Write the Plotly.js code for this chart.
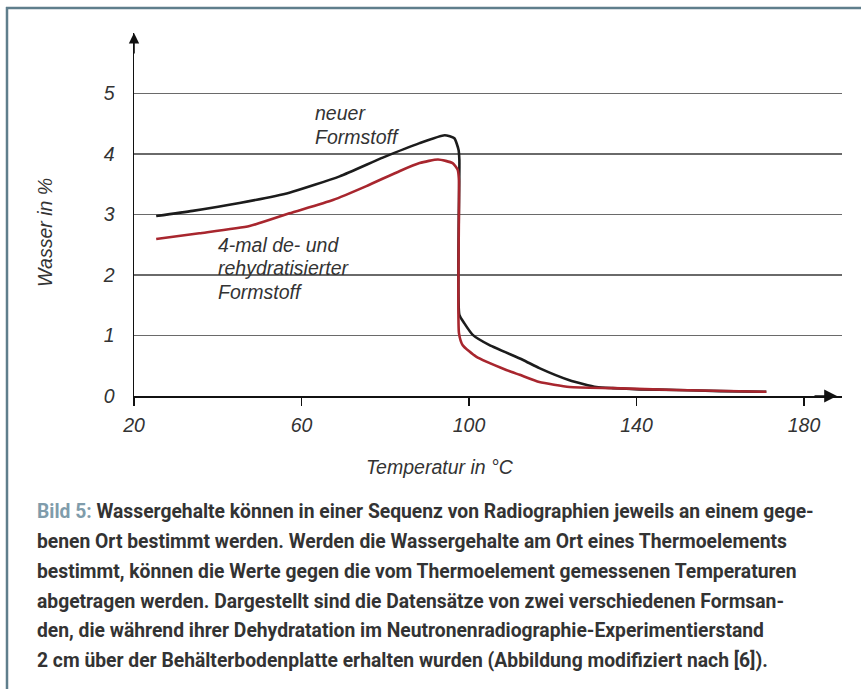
<!DOCTYPE html>
<html>
<head>
<meta charset="utf-8">
<script src="https://cdn.plot.ly/plotly-3.0.1.min.js"></script>
<style>
html,body{margin:0;padding:0;background:#fff;}
#chart{width:861px;height:689px;}
</style>
</head>
<body>
<div id="chart"></div>
<script>
// ---- data ----
const tempNeu   = [25.3, 34.0, 45.2, 57.1, 69.1, 79.4, 88.2, 94.2, 96.5, 97.5, 97.7, 97.7, 98.9, 100.9, 104.9, 112.8, 116.8, 124.0, 130.4, 134.3, 140.7, 149.5, 159.8, 171.0];
const wasserNeu = [2.975, 3.06, 3.19, 3.36, 3.63, 3.94, 4.18, 4.31, 4.26, 4.07, 3.90, 1.34, 1.20, 1.01, 0.84, 0.60, 0.46, 0.26, 0.15, 0.13, 0.11, 0.10, 0.08, 0.07];

const tempRehy   = [25.3, 35.6, 47.6, 57.1, 67.5, 75.5, 83.5, 88.2, 92.6, 96.1, 97.3, 97.6, 97.6, 98.5, 101.7, 108.9, 112.1, 116.8, 124.0, 134.3, 149.5, 171.0];
const wasserRehy = [2.595, 2.69, 2.81, 3.02, 3.24, 3.47, 3.72, 3.85, 3.91, 3.85, 3.74, 3.57, 1.04, 0.84, 0.65, 0.43, 0.35, 0.23, 0.15, 0.13, 0.10, 0.07];

const xTicks = [20, 60, 100, 140, 180];
const yTicks = [0, 1, 2, 3, 4, 5];

const labelNeuLines  = ['neuer', 'Formstoff'];
const labelRehyLines = ['4-mal de- und', 'rehydratisierter', 'Formstoff'];
const xTitle = 'Temperatur in °C';
const yTitle = 'Wasser in %';
const captionLines = [
  "<span style='color:#7f9cab'>Bild 5:</span> Wassergehalte können in einer Sequenz von Radiographien jeweils an einem gege-",
  "benen Ort bestimmt werden. Werden die Wassergehalte am Ort eines Thermoelements",
  "bestimmt, können die Werte gegen die vom Thermoelement gemessenen Temperaturen",
  "abgetragen werden. Dargestellt sind die Datensätze von zwei verschiedenen Formsan-",
  "den, die während ihrer Dehydratation im Neutronenradiographie-Experimentierstand",
  "2 cm über der Behälterbodenplatte erhalten wurden (Abbildung modifiziert nach [6])."
];

// ---- layout geometry ----
const W = 861, H = 689;
const L = 134, T = 33, PW = 708, PH = 363;
const R = W - L - PW, B = H - T - PH;
const px2x = p => (p - L) / PW;
const py2y = p => (T + PH - p) / PH;

const chartFont = 'Liberation Sans, Arial, sans-serif';
const textCol = '#333333';
const lblFont = {family: chartFont, size: 19.5, color: textCol, style: 'italic'};

const traces = [
  {x: tempNeu, y: wasserNeu, mode: 'lines', line: {color: '#1c1c1c', width: 2.6, shape: 'spline', smoothing: 0.5}, hoverinfo: 'skip'},
  {x: tempRehy, y: wasserRehy, mode: 'lines', line: {color: '#a8262e', width: 2.6, shape: 'spline', smoothing: 0.5}, hoverinfo: 'skip'}
];

const annotations = [];
labelNeuLines.forEach((t, i) => annotations.push({
  xref: 'paper', yref: 'paper', x: px2x(313), y: py2y(113 + 24 * i), xanchor: 'left', yanchor: 'middle',
  showarrow: false, text: t, font: lblFont}));
labelRehyLines.forEach((t, i) => annotations.push({
  xref: 'paper', yref: 'paper', x: px2x(216), y: py2y(245 + 23.3 * i), xanchor: 'left', yanchor: 'middle',
  showarrow: false, text: t, font: lblFont}));

annotations.push(
  {xref: 'paper', yref: 'paper', x: px2x(440), y: py2y(467), xanchor: 'center', yanchor: 'middle', showarrow: false,
   text: xTitle, font: lblFont},
  {xref: 'paper', yref: 'paper', x: px2x(45), y: py2y(233), xanchor: 'center', yanchor: 'middle', showarrow: false, textangle: -90,
   text: yTitle, font: lblFont},
  // axis arrowheads
  {xref: 'x', yref: 'y', x: 20, y: 6, ax: 0, ay: 22, text: '', showarrow: true,
   arrowhead: 2, arrowsize: 1.3, arrowwidth: 1.6, arrowcolor: '#111'},
  {xref: 'paper', yref: 'y', x: px2x(837), y: 0, ax: -24, ay: 0, text: '', showarrow: true,
   arrowhead: 2, arrowsize: 1.6, arrowwidth: 1.6, arrowcolor: '#111'}
);

const capY = [511.5, 541.5, 571.2, 601, 630.8, 660];
captionLines.forEach((t, i) => {
  annotations.push({xref: 'paper', yref: 'paper', x: px2x(35), y: py2y(capY[i]), xanchor: 'left', yanchor: 'middle',
    align: 'left', showarrow: false, text: t,
    font: {family: 'Roboto, sans-serif', size: 19.3, color: '#333333', weight: 'bold'}});
});

const shapes = [
  // white gap in the 2-gridline behind the label
  {type: 'rect', layer: 'between', xref: 'paper', yref: 'y', x0: px2x(189), x1: px2x(378), y0: 1.85, y1: 2.15,
   fillcolor: '#ffffff', line: {width: 0}},
  // frame (top and left)
  {type: 'line', xref: 'paper', yref: 'paper', x0: px2x(6), x1: px2x(861), y0: py2y(8), y1: py2y(8), line: {color: '#5f7e8c', width: 2.5}},
  {type: 'line', xref: 'paper', yref: 'paper', x0: px2x(7), x1: px2x(7), y0: py2y(7), y1: py2y(689), line: {color: '#5f7e8c', width: 2.5}}
];

const layout = {
  width: W, height: H,
  margin: {l: L, r: R, t: T, b: B, pad: 0},
  paper_bgcolor: '#ffffff', plot_bgcolor: '#ffffff',
  showlegend: false,
  xaxis: {
    range: [20, 20 + PW / 4.1875], tickvals: xTicks, ticktext: xTicks.map(String),
    showgrid: false, zeroline: false, showline: true, linecolor: '#111', linewidth: 1.5,
    ticks: 'outside', ticklen: 8, tickwidth: 1.2, tickcolor: '#111',
    tickfont: lblFont, ticklabelstandoff: 3,
    fixedrange: true
  },
  yaxis: {
    range: [0, 6], tickvals: yTicks, ticktext: yTicks.map(String),
    showgrid: true, gridcolor: '#6a6a6a', gridwidth: 1.2, zeroline: false,
    showline: true, linecolor: '#111', linewidth: 1.5, ticks: '',
    tickfont: lblFont, ticklabelstandoff: 14,
    fixedrange: true
  },
  annotations: annotations,
  shapes: shapes
};

Plotly.newPlot('chart', traces, layout, {staticPlot: true, displayModeBar: false});
</script>
</body>
</html>
